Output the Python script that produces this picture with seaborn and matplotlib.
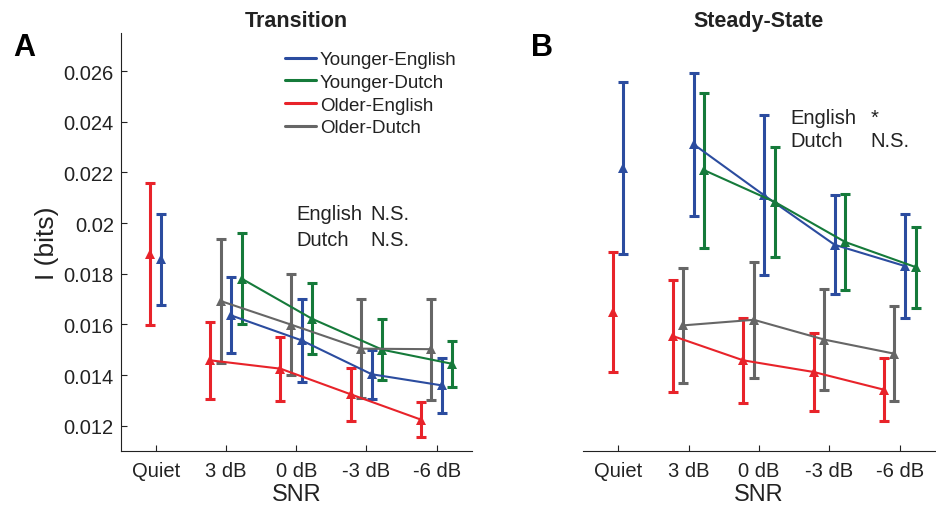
import numpy as np
import pandas as pd
import matplotlib
matplotlib.use("Agg")
import matplotlib.pyplot as plt
from matplotlib.lines import Line2D
import seaborn as sns

# ---- data ---------------------------------------------------------------
snr_labels = ["Quiet", "3 dB", "0 dB", "-3 dB", "-6 dB"]
groups = ["Younger-English", "Younger-Dutch", "Older-English", "Older-Dutch"]

# Transition segment: mean information (bits) and error
tr_ye_mean = [0.01856, 0.01635, 0.01537, 0.01403, 0.01359]
tr_ye_err = [0.00180, 0.00150, 0.00164, 0.00097, 0.00107]
tr_yd_mean = [np.nan, 0.01780, 0.01622, 0.01500, 0.01444]
tr_yd_err = [np.nan, 0.00180, 0.00140, 0.00120, 0.00090]
tr_oe_mean = [0.01878, 0.01458, 0.01425, 0.01324, 0.01224]
tr_oe_err = [0.00280, 0.00152, 0.00126, 0.00104, 0.00068]
tr_od_mean = [np.nan, 0.01692, 0.01599, 0.01504, 0.01502]
tr_od_err = [np.nan, 0.00245, 0.00200, 0.00196, 0.00200]

# Steady-state segment
ss_ye_mean = [0.02218, 0.02310, 0.02109, 0.01914, 0.01830]
ss_ye_err = [0.00340, 0.00284, 0.00316, 0.00196, 0.00206]
ss_yd_mean = [np.nan, 0.02208, 0.02083, 0.01925, 0.01826]
ss_yd_err = [np.nan, 0.00305, 0.00217, 0.00188, 0.00160]
ss_oe_mean = [0.01649, 0.01554, 0.01458, 0.01412, 0.01342]
ss_oe_err = [0.00236, 0.00220, 0.00168, 0.00155, 0.00125]
ss_od_mean = [np.nan, 0.01596, 0.01618, 0.01540, 0.01484]
ss_od_err = [np.nan, 0.00228, 0.00228, 0.00198, 0.00188]

y_ticks = [0.012, 0.014, 0.016, 0.018, 0.020, 0.022, 0.024, 0.026]
y_ticklabels = ["0.012", "0.014", "0.016", "0.018", "0.02", "0.022", "0.024", "0.026"]

stats_tr = [("English", "N.S."), ("Dutch", "N.S.")]
stats_ss = [("English", "*"), ("Dutch", "N.S.")]

# ---- style ----------------------------------------------------------------
palette = {
    "Younger-English": "#2b4c9f",
    "Younger-Dutch": "#157a3a",
    "Older-English": "#e8232a",
    "Older-Dutch": "#666666",
}
offsets = {"Older-English": -0.225, "Older-Dutch": -0.075,
           "Younger-English": 0.075, "Younger-Dutch": 0.225}
quiet_offsets = {"Older-English": -0.08, "Younger-English": 0.07}

sns.set_style("ticks")
plt.rcParams["font.family"] = ["Liberation Sans", "DejaVu Sans"]
text_color = "#222222"


def build_frame(means, errs):
    rows = []
    for g, m_list, e_list in zip(groups, means, errs):
        for i, (m, e) in enumerate(zip(m_list, e_list)):
            if np.isnan(m):
                continue
            off = quiet_offsets[g] if i == 0 else offsets[g]
            rows.append({"group": g, "snr": snr_labels[i], "idx": i,
                         "pos": i + 1 + off, "mean": m, "err": e})
    return pd.DataFrame(rows)


df_tr = build_frame([tr_ye_mean, tr_yd_mean, tr_oe_mean, tr_od_mean],
                    [tr_ye_err, tr_yd_err, tr_oe_err, tr_od_err])
df_ss = build_frame([ss_ye_mean, ss_yd_mean, ss_oe_mean, ss_od_mean],
                    [ss_ye_err, ss_yd_err, ss_oe_err, ss_od_err])

fig = plt.figure(figsize=(9.36, 5.10), dpi=100)
ax1 = fig.add_axes([0.129, 0.1137, 0.375, 0.8196])
ax2 = fig.add_axes([0.6229, 0.1137, 0.376, 0.8196])


def draw_panel(ax, df, title):
    noisy = df[df["idx"] > 0]
    sns.lineplot(data=noisy, x="pos", y="mean", hue="group", hue_order=groups,
                 palette=palette, estimator=None, sort=True, linewidth=1.5,
                 marker="^", markersize=6.5, markeredgewidth=0,
                 legend=False, ax=ax, zorder=3)
    for g in groups:
        sub = df[df["group"] == g]
        ax.errorbar(sub["pos"], sub["mean"], yerr=sub["err"], fmt="none",
                    ecolor=palette[g], elinewidth=2.2, capsize=3.5,
                    capthick=2.2, zorder=2)
        q = sub[sub["idx"] == 0]
        if len(q):
            ax.plot(q["pos"], q["mean"], linestyle="none", marker="^",
                    markersize=6.5, markeredgewidth=0, color=palette[g],
                    zorder=3)
    ax.set_xlim(0.5, 5.5)
    ax.set_ylim(0.011, 0.0275)
    ax.set_xticks(range(1, 6))
    ax.set_xticklabels(snr_labels)
    ax.set_xlabel("SNR", fontsize=17, color=text_color, labelpad=2)
    ax.set_title(title, fontsize=15.5, fontweight="bold", pad=5, color=text_color)
    ax.tick_params(axis="both", direction="in", length=4, width=0.8,
                   labelsize=14.5, colors=text_color)
    ax.tick_params(axis="x", pad=7)
    ax.tick_params(axis="y", pad=5)
    for side in ("top", "right"):
        ax.spines[side].set_visible(False)
    for side in ("left", "bottom"):
        ax.spines[side].set_linewidth(0.8)
        ax.spines[side].set_color(text_color)


draw_panel(ax1, df_tr, "Transition")
draw_panel(ax2, df_ss, "Steady-State")

ax1.set_yticks(y_ticks)
ax1.set_yticklabels(y_ticklabels)
ax1.set_ylabel("I (bits)", fontsize=19, color=text_color, labelpad=3)

ax2.spines["left"].set_visible(False)
ax2.tick_params(axis="y", left=False, labelleft=False)
ax2.set_ylabel("")

# significance notes
for (lang, sig), yv in zip(stats_tr, [0.02017, 0.01914]):
    ax1.text(3.0, yv, lang, fontsize=14.5, color=text_color, va="baseline")
    ax1.text(4.06, yv, sig, fontsize=14.5, color=text_color, va="baseline")
for (lang, sig), yv in zip(stats_ss, [0.02395, 0.02304]):
    ax2.text(3.45, yv, lang, fontsize=14.5, color=text_color, va="baseline")
    ax2.text(4.58, yv, sig, fontsize=14.5, color=text_color, va="baseline")

handles = [Line2D([0], [0], color=palette[g], linewidth=2.2) for g in groups]
ax1.legend(handles, groups, loc="upper left", bbox_to_anchor=(0.468, 0.957),
           frameon=False, fontsize=13.5, handlelength=1.65, handletextpad=0.2,
           labelspacing=0.3, borderpad=0, borderaxespad=0,
           labelcolor=text_color)

fig.text(0.0139, 0.8902, "A", fontsize=22, fontweight="bold", va="baseline",
         color="black")
fig.text(0.567, 0.8908, "B", fontsize=22, fontweight="bold", va="baseline",
         color="black")

fig.savefig("out.png", dpi=100)
